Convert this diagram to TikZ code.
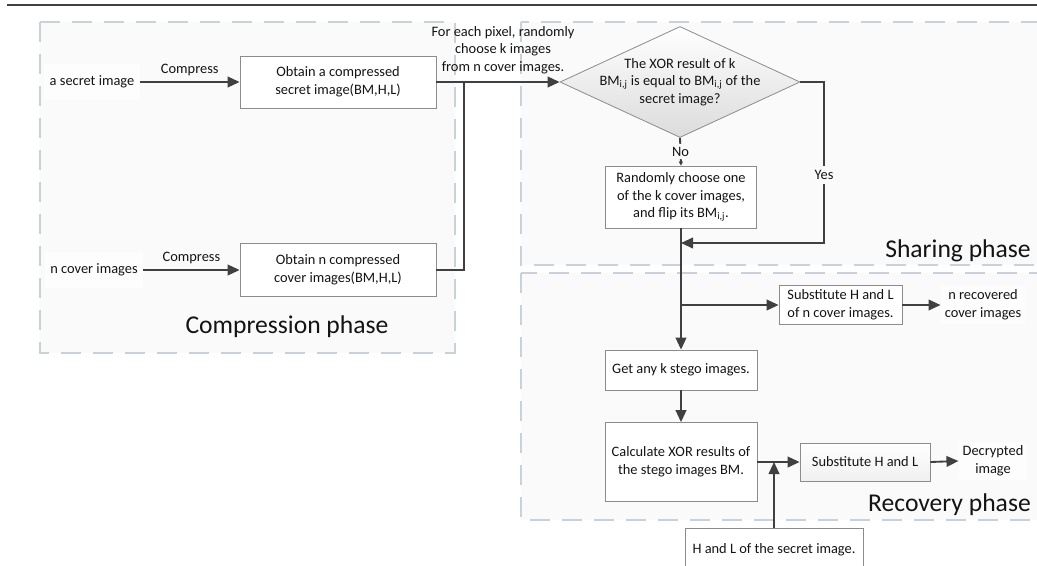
\documentclass[tikz,border=0pt]{standalone}
\usepackage{fontspec}
\setmainfont{Carlito}
\usetikzlibrary{arrows.meta,shapes.geometric,calc,shadows}
\definecolor{phasecol}{HTML}{C8D2DB}
\definecolor{phasebg}{HTML}{FAFAFA}
\definecolor{inkcol}{HTML}{404040}
\definecolor{boxcol}{HTML}{8C8C8C}
\begin{document}
\begin{tikzpicture}[x=0.75pt,y=-0.75pt,
  every node/.style={font=\fontsize{10.8}{13.2}\selectfont, text=black!92},
  box/.style={draw=boxcol, fill=white, line width=0.6pt, align=center, inner sep=0pt},
  phase/.style={draw=phasecol, line width=2.1pt, dash pattern=on 15pt off 9pt, fill=phasebg},
  conn/.style={draw=inkcol, line width=1.4pt},
  arr/.style={conn, -{Triangle[length=9pt,width=8pt]}},
  smallarr/.style={conn, -{Triangle[length=3pt,width=3pt]}},
  lbl/.style={align=center, inner sep=1pt},
  outtxt/.style={align=center, fill=white!60!phasebg, inner sep=4pt},
  phaselbl/.style={font=\fontsize{19.2}{22}\selectfont, inner sep=0pt}
]
\clip (0,0) rectangle (1037,565);
\useasboundingbox (0,0) rectangle (1037,565);

% top rule
\draw[inkcol, line width=1.2pt] (7,5) -- (1037,5);

% phase frames
\path[phase] (40,22) rectangle (455,353);
\path[phase] (521,22) rectangle (1050,265);
\path[phase] (521,273) rectangle (1050,520);

\node[phaselbl, anchor=center] (cph) at (287,327) {Compression phase};
\node[phaselbl, anchor=east] (sph) at (1031,251) {Sharing phase};
\node[phaselbl, anchor=east] (rph) at (1031,505) {Recovery phase};

% compression phase
\node[outtxt, minimum height=27pt] (secin) at (92,82) {a secret image};
\node[outtxt, minimum height=27pt] (covin) at (94,270) {n cover images};
\node[box, minimum width=147pt, minimum height=39pt] (sec) at (338,82)
  {Obtain a compressed\\secret image(BM,H,L)};
\node[box, minimum width=147pt, minimum height=39.75pt] (cov) at (338,270)
  {Obtain n compressed\\cover images(BM,H,L)};
\draw[arr] (secin.east) -- node[lbl, above=3pt] {Compress} (sec.west);
\draw[arr] (covin.east) -- node[lbl, above=3pt] {Compress} (cov.west);

% sharing phase
\node[diamond, minimum width=180pt, minimum height=83.25pt, inner sep=0pt,
  draw=boxcol, line width=0.6pt, top color=white, bottom color=black!14] (dia) at (680,82) {};
\node[lbl, align=center] (diatxt) at (dia.center)
  {The XOR result of k\\BM\textsubscript{i,j} is equal to BM\textsubscript{i,j} of the\\secret image?};
\node[lbl, align=center] (fep) at (503,50)
  {For each pixel, randomly\\choose k images\\from n cover images.};
\coordinate (jn) at (464,82);
\draw[arr] (sec.east) -- (dia.west);
\draw[conn] (cov.east) -| (jn);

\node[box, minimum width=113.25pt, minimum height=46.5pt] (rand) at (681,197)
  {Randomly choose one\\of the k cover images,\\and flip its BM\textsubscript{i,j}.};
\draw[smallarr] (dia.south) -- node[lbl, fill=phasebg, inner sep=2pt] {No} (rand.north);

\coordinate (yesc) at (824,243);
\coordinate (mrg) at (681,243);
\draw[arr] (dia.east) -| (yesc) -- (mrg);
\node[lbl, fill=phasebg, inner sep=3pt] (yes) at (824,175) {Yes};

% recovery phase
\node[box, minimum width=92.25pt, minimum height=29.25pt] (sub1) at (840.5,305)
  {Substitute H and L\\of n cover images.};
\node[outtxt, inner sep=3pt] (rec) at (983,305) {n recovered\\cover images};
\node[box, minimum width=114pt, minimum height=30pt] (getk) at (681,370)
  {Get any k stego images.};
\node[box, minimum width=114pt, minimum height=59.25pt] (calc) at (681,462)
  {Calculate XOR results of\\the stego images BM.};
\node[box, minimum width=97.5pt, minimum height=28.5pt, top color=white, bottom color=black!6,
  drop shadow={shadow xshift=1pt, shadow yshift=-1pt, opacity=0.25}] (sub2) at (865,462)
  {Substitute H and L};
\node[outtxt, inner sep=3pt] (dec) at (993,461) {Decrypted\\image};
\node[box, minimum width=133.5pt, minimum height=33pt] (hl) at (774,550)
  {H and L of the secret image.};

\coordinate (brn) at (681,305);
\coordinate (hlm) at (774,462);
\draw[arr] (rand.south) -- (getk.north);
\draw[arr] (brn) -- (sub1.west);
\draw[arr] (sub1.east) -- (rec.west);
\draw[arr] (getk.south) -- (calc.north);
\draw[arr] (calc.east) -- (sub2.west);
\draw[arr] (sub2.east) -- (dec.west);
\draw[arr] (hl.north) -- (hlm);
\end{tikzpicture}
\end{document}
